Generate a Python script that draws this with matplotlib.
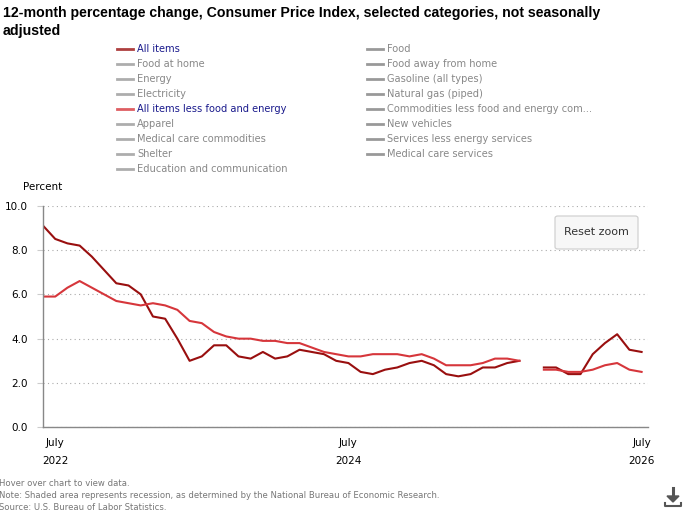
import matplotlib.pyplot as plt
import matplotlib.patches as patches
import numpy as np

W, H = 686, 516

# monthly, June 2022 .. July 2026 (Oct 2025 not published)
months = np.arange(50)
all_items = [9.1, 8.5, 8.3, 8.2, 7.7, 7.1, 6.5, 6.4, 6.0, 5.0, 4.9, 4.0, 3.0,
             3.2, 3.7, 3.7, 3.2, 3.1, 3.4, 3.1, 3.2, 3.5, 3.4, 3.3, 3.0, 2.9,
             2.5, 2.4, 2.6, 2.7, 2.9, 3.0, 2.8, 2.4, 2.3, 2.4, 2.7, 2.7, 2.9,
             3.0, np.nan, 2.7, 2.7, 2.4, 2.4, 3.3, 3.8, 4.2, 3.5, 3.4]
core = [5.9, 5.9, 6.3, 6.6, 6.3, 6.0, 5.7, 5.6, 5.5, 5.6, 5.5, 5.3, 4.8,
        4.7, 4.3, 4.1, 4.0, 4.0, 3.9, 3.9, 3.8, 3.8, 3.6, 3.4, 3.3, 3.2,
        3.2, 3.3, 3.3, 3.3, 3.2, 3.3, 3.1, 2.8, 2.8, 2.8, 2.9, 3.1, 3.1,
        3.0, np.nan, 2.6, 2.6, 2.5, 2.5, 2.6, 2.8, 2.9, 2.6, 2.5]
tick_pos = [1, 25, 49]
tick_labels = ["July\n2022", "July\n2024", "July\n2026"]

legend_left = ["All items", "Food at home", "Energy", "Electricity",
               "All items less food and energy", "Apparel",
               "Medical care commodities", "Shelter",
               "Education and communication"]
legend_right = ["Food", "Food away from home", "Gasoline (all types)",
                "Natural gas (piped)",
                "Commodities less food and energy com...", "New vehicles",
                "Services less energy services", "Medical care services"]

dark_red = '#990f0f'
light_red = '#d6363b'
grey = '#999999'


def fx(px):
    return px / W


def fy(py):
    return 1 - py / H


plt.rcParams['font.family'] = ['DejaVu Sans']
fig = plt.figure(figsize=(W / 100, H / 100), dpi=100)
ax = fig.add_axes([fx(43), fy(427.3), fx(647.7) - fx(43), (427.3 - 205.7) / H])

ax.plot(months, all_items, color=dark_red, linewidth=1.5)
ax.plot(months, core, color=light_red, linewidth=1.5)

ax.set_xlim(0, 49.5)
ax.set_ylim(0, 10)
ax.set_yticks(np.arange(0, 10.1, 2))
ax.set_yticklabels([f"{v:.1f}" for v in np.arange(0, 10.1, 2)])
ax.set_xticks(tick_pos)
ax.set_xticklabels(tick_labels, linespacing=2.0)
ax.tick_params(axis='x', length=0, pad=8, labelsize=7.5, colors='black')
ax.tick_params(axis='y', length=4.3, width=0.8, color='#cccccc', labelsize=7.5, pad=6.5)
ax.yaxis.grid(True, linestyle=(0, (1, 3)), color='#aaaaaa', linewidth=0.8)
for s in ['top', 'right']:
    ax.spines[s].set_visible(False)
ax.spines['left'].set_color('#888888')
ax.spines['bottom'].set_color('#888888')
ax.spines['left'].set_linewidth(1)
ax.spines['bottom'].set_linewidth(1)

# title
fig.text(fx(3), fy(13), "12-month percentage change, Consumer Price Index, selected categories, not seasonally",
         fontsize=10.2, fontweight='bold', family='Liberation Sans', va='center', ha='left')
fig.text(fx(3), fy(31), "adjusted",
         fontsize=10.2, fontweight='bold', family='Liberation Sans', va='center', ha='left')

# legend
for i, name in enumerate(legend_left):
    y = 49 + i * 15
    active = name in ("All items", "All items less food and energy")
    col = (dark_red if i == 0 else light_red) if active else grey
    fig.add_artist(plt.Line2D([fx(117), fx(133)], [fy(y), fy(y)], color=col, linewidth=2, alpha=0.8))
    fig.text(fx(137), fy(y), name, fontsize=7.1, va='center', ha='left',
             color='#1a1a8c' if active else '#888888')
for i, name in enumerate(legend_right):
    y = 49 + i * 15
    fig.add_artist(plt.Line2D([fx(367), fx(383)], [fy(y), fy(y)], color=grey, linewidth=2))
    fig.text(fx(387), fy(y), name, fontsize=7.1, va='center', ha='left', color='#888888')

fig.text(fx(23), fy(187), "Percent", fontsize=7.5, va='center', ha='left')

# reset zoom button
fig.add_artist(patches.FancyBboxPatch((fx(555), fy(249)), fx(638) - fx(555), (249 - 216) / H,
                                      boxstyle="round,pad=0,rounding_size=0.004",
                                      facecolor='#f7f7f7', edgecolor='#cccccc', linewidth=0.8,
                                      transform=fig.transFigure))
fig.text(fx(596.5), fy(232), "Reset zoom", fontsize=8, va='center', ha='center', color='#333333')

# footer
foot = ["Hover over chart to view data.",
        "Note: Shaded area represents recession, as determined by the National Bureau of Economic Research.",
        "Source: U.S. Bureau of Labor Statistics."]
for i, t in enumerate(foot):
    fig.text(fx(-1), fy(483 + i * 12), t, fontsize=6.1, va='center', ha='left', color='#777777')

# download icon
icon = '#555555'
fig.add_artist(plt.Line2D([fx(673), fx(673)], [fy(488), fy(499)], color=icon, linewidth=2.2))
fig.add_artist(patches.Polygon([(fx(667), fy(496)), (fx(679), fy(496)), (fx(673), fy(502))],
                               closed=True, color=icon, transform=fig.transFigure))
fig.add_artist(plt.Line2D([fx(665), fx(665), fx(681), fx(681)],
                          [fy(503), fy(506), fy(506), fy(503)], color=icon, linewidth=1.5))

fig.savefig('out.png', dpi=100)
